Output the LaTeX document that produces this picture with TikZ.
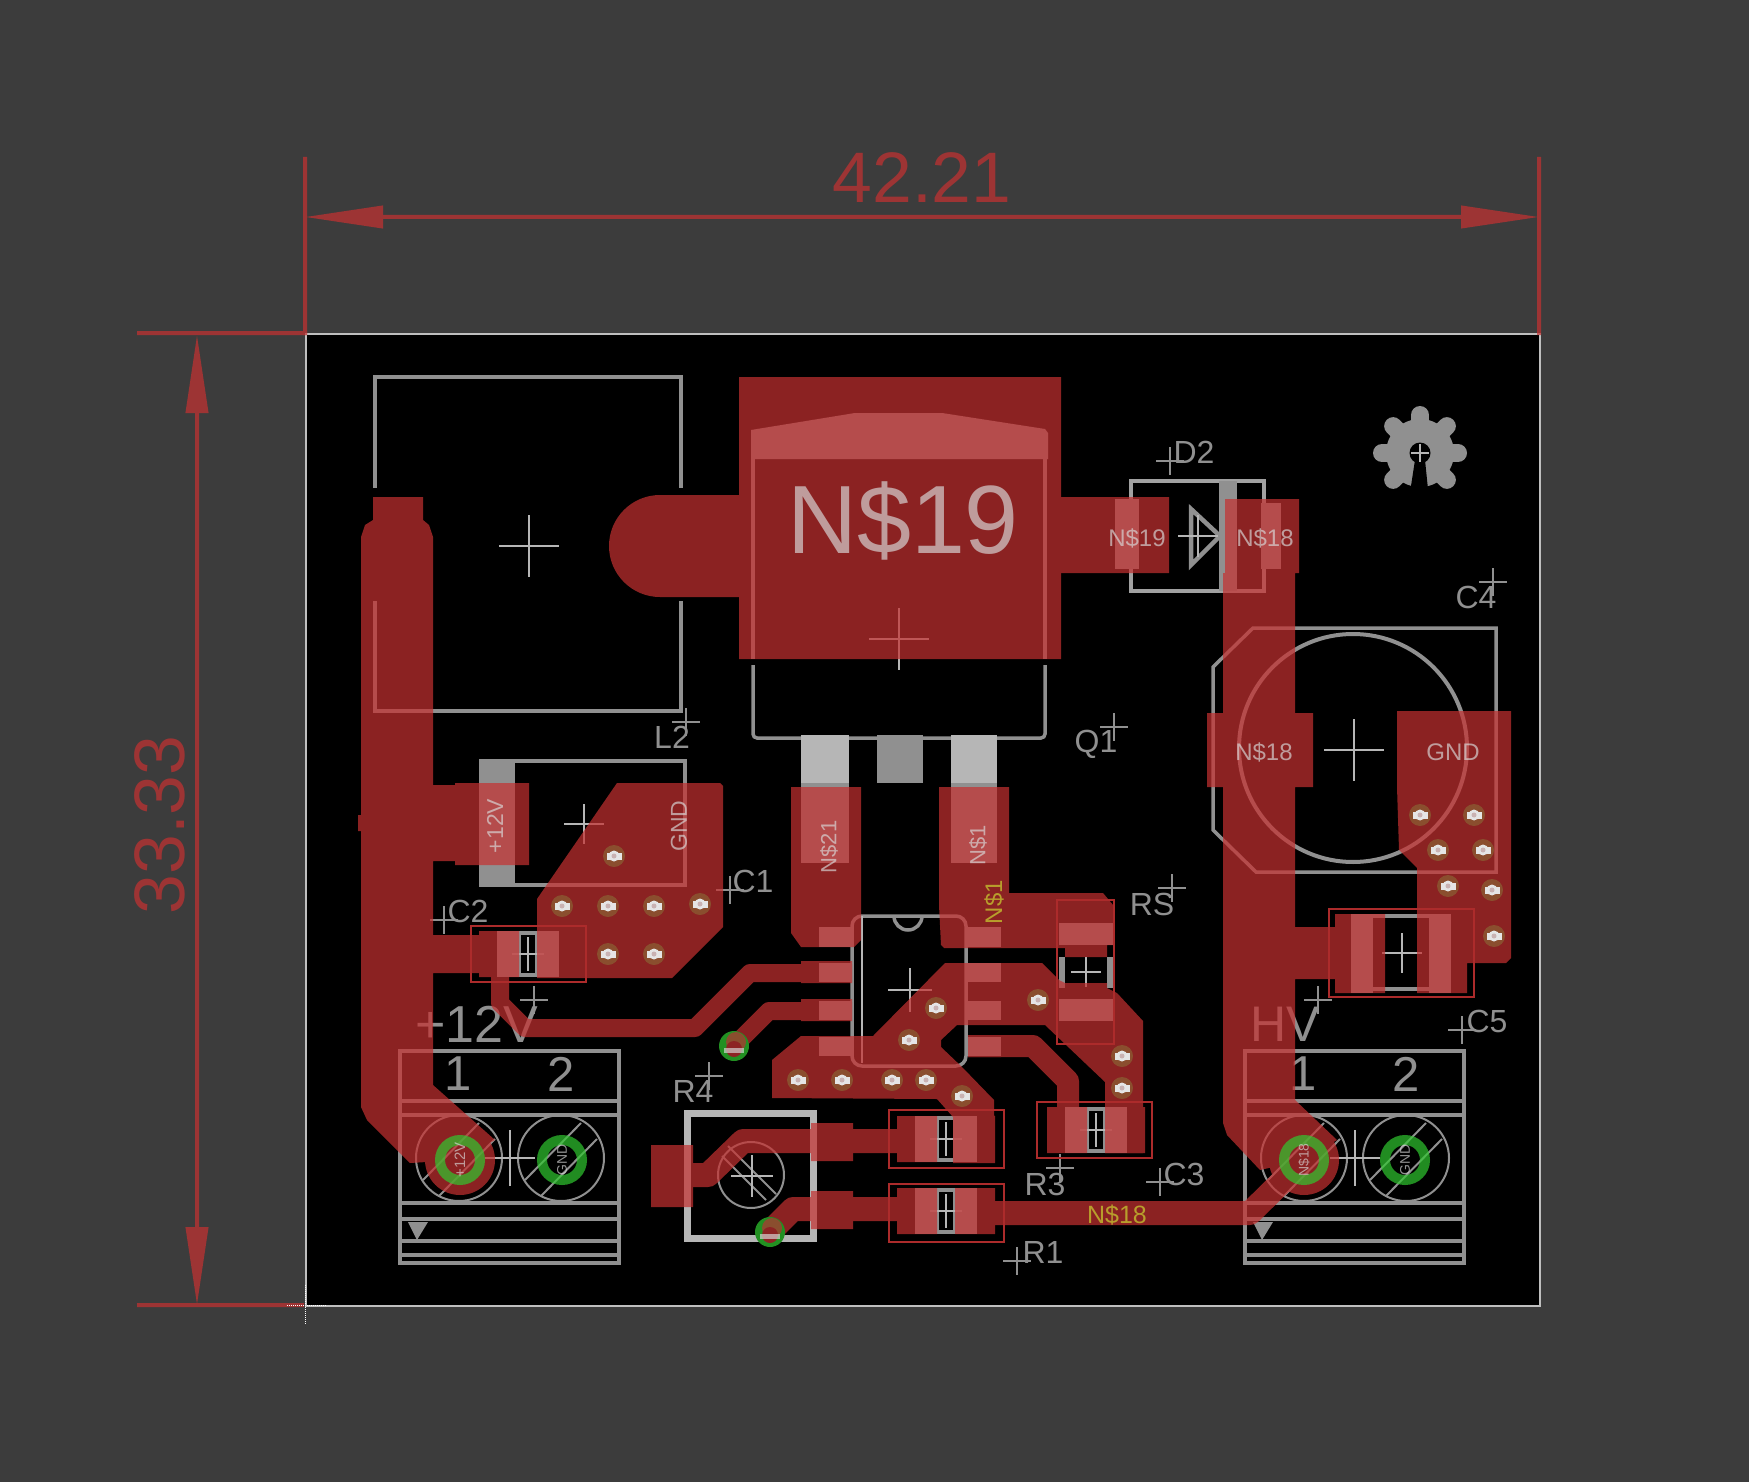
\documentclass[tikz,border=0pt]{standalone}
\usepackage{fontspec}
\setmainfont{Liberation Sans}
\usetikzlibrary{arrows.meta}
\definecolor{bgrey}{HTML}{3C3C3C}
\definecolor{silkgrey}{HTML}{909090}
\definecolor{lightgrey}{HTML}{B6B6B6}
\definecolor{cured}{RGB}{196,49,49}
\definecolor{boxred}{HTML}{AC2B2B}
\definecolor{viabrown}{HTML}{8A4E2E}
\definecolor{ringgreen}{RGB}{48,200,48}
\definecolor{drillgreen}{RGB}{34,144,34}
\definecolor{netyellow}{HTML}{B89E2C}
\tikzset{
    silk/.style = {draw=silkgrey, line width=3.5pt},
    fine/.style = {draw=lightgrey, line width=1.6pt},
    thin/.style = {draw=silkgrey, line width=2pt},
    copper/.style = {fill=cured},
    trace/.style = {draw=cured, line width=#1, line join=round},
    outbox/.style = {draw=boxred, line width=1.6pt},
    dimext/.style = {draw=cured, line width=4pt},
    dimline/.style = {draw=cured, line width=4pt, {Triangle[length=78pt,width=22pt]}-{Triangle[length=78pt,width=22pt]}},
    lbl/.style = {inner sep=0, text=silkgrey, font=\fontsize{32}{38}\selectfont},
    big/.style = {inner sep=0, text=silkgrey, font=\fontsize{#1}{56}\selectfont},
    dimtext/.style = {inner sep=0, text=cured, font=\fontsize{71.5}{80}\selectfont},
    padname/.style = {inner sep=0, text=black!15, text opacity=.67, font=\fontsize{#1}{#1}\selectfont},
    netname/.style = {inner sep=0, text=netyellow, font=\fontsize{#1}{#1}\selectfont},
    pics/mark/.style n args = {2}{
        code = {
        \draw [fine] (-#1,0) -- (#1,0);
        \draw [fine] (0,-#2) -- (0,#2);
        }
    },
    pics/org/.style = {
        code = {
        \draw [thin, line width=1.6pt] (-14,0) -- (14,0);
        \draw [thin, line width=1.6pt] (0,-14) -- (0,14);
        }
    },
    pics/via/.style = {
        code = {
        \fill [viabrown] (0,0) circle (11);
        \fill [black!10] (-7.5,-3.5) rectangle (7.5,3.5);
        \fill [black!10] (0,0) circle (5.5);
        \fill [red!30!black!30] (0,0) circle (2.5);
        }
    },
    pics/smdsilk/.style = {
        code = {
        \fill [silkgrey] (-31,-23) rectangle (-7,23);
        \fill [silkgrey] (7,-23) rectangle (31,23);
        \fill [silkgrey] (-7,-23) rectangle (7,-19);
        \fill [silkgrey] (-7,19) rectangle (7,23);
        \path pic {mark={16}{17}};
        }
    },
    pics/smdcu/.style = {
        code = {
        \fill [copper] (-49,-23) rectangle (-9,23);
        \fill [copper] (9,-23) rectangle (49,23);
        }
    },
    pics/terminal/.style = {
        code = {
        \draw [silk] (0,0) rectangle (219,212);
        \foreach \yline in {50,64,152,168,190,204}
            \draw [silk] (0,\yline) -- (219,\yline);
        \node (-one) [inner sep=0, text=silkgrey, font=\fontsize{49}{56}\selectfont] at (58,23) {1};
        \node (-two) [inner sep=0, text=silkgrey, font=\fontsize{49}{56}\selectfont] at (161,23) {2};
        \draw [thin] (59,107) circle (43);
        \draw [thin] (161,107) circle (43);
        \foreach \xpin in {59,161} {
            \draw [thin] (\xpin-36,129) -- (\xpin+20,72);
            \draw [thin] (\xpin-20,145) -- (\xpin+36,88);
        }
        \fill [silkgrey] (8,171) -- (28,171) -- (17,189) -- cycle;
        \path pic at (110,107) {mark={25}{28}};
        }
    },
    pics/ring/.style = {
        code = {
        \draw [ringgreen, opacity=.7, line width=10pt] (0,0) circle (20);
        }
    },
    pics/drill/.style = {
        code = {
        \fill [drillgreen] (0,0) circle (15);
        \fill [viabrown] (2,-4) circle (10);
        \fill [cured!72!black] (0,3) circle (8);
        \fill [black!15, opacity=.67] (-10,2) rectangle (10,7);
        }
    },
    pics/gearlogo/.style = {
        code = {
        \fill [silkgrey] (0,0) circle (34);
        \foreach \atooth in {0,45,135,180,225,270,315}
            \draw [silkgrey, line width=18pt, line cap=round] (0,0) -- (\atooth:38);
        \fill [black] (0,0) circle (10.5);
        \fill [black] (-5,7) -- (5,7) -- (9,46) -- (-11,46) -- cycle;
        \path pic {mark={9}{9}};
        }
    }
}

\begin{document}
\begin{tikzpicture}[x=1pt,y=-1pt]
    \useasboundingbox (0,0) rectangle (1749,1482);
    \fill [bgrey] (0,0) rectangle (1749,1482);
    \fill [black] (305.7,334) rectangle (1540,1306);
    \draw [draw=black!25, line width=2pt] (305.7,334) rectangle (1540,1306);

    % placement layer
    \draw [silk] (375,488) -- (375,377) -- (681,377) -- (681,488);
    \draw [silk] (375,601) -- (375,711) -- (681,711) -- (681,601);
    \path pic at (529,546) {mark={30}{31}};

    \fill [silkgrey] (751,459) -- (751,430) -- (855,413) -- (942,413) -- (1045,429) -- (1048,433) -- (1048,459) -- cycle;
    \draw [silk] (753,459) -- (753,659);
    \draw [silk] (1045,459) -- (1045,659);
    \draw [silk, rounded corners=4pt] (753,665) -- (753,738) -- (1045,738) -- (1045,665);
    \fill [lightgrey] (801,735) rectangle (849,783);
    \fill [silkgrey] (801,783) rectangle (849,863);
    \fill [silkgrey] (877,735) rectangle (923,783);
    \fill [lightgrey] (951,735) rectangle (997,783);
    \fill [silkgrey] (951,783) rectangle (997,863);
    \path pic at (899,639) {mark={30}{31}};

    \draw [silk, draw=silkgrey!85!white] (1131,481) rectangle (1264,591);
    \fill [silkgrey] (1219,481) rectangle (1237,591);
    \fill [silkgrey] (1115,499) rectangle (1139,569);
    \fill [silkgrey] (1261,503) rectangle (1281,569);
    \draw [silk, line width=4.5pt] (1191,509) -- (1191,565) -- (1220,536) -- cycle;
    \path pic at (1198,536) {mark={20}{21}};

    \path pic at (1420,453) {gearlogo};

    \draw [silk] (1253,628) -- (1496,628) -- (1496,872) -- (1256,872) -- (1213,830) -- (1213,667) -- cycle;
    \draw [silk, line width=4pt] (1353,748) circle (114);
    \path pic at (1354,750) {mark={30}{31}};

    \fill [silkgrey] (479,759) rectangle (515,887);
    \draw [silk] (515,761) -- (685,761) -- (685,885) -- (515,885);
    \path pic at (584,824) {mark={20}{20}};

    \path pic at (528,954) {smdsilk};
    \path pic at (946,1139) {smdsilk};
    \path pic at (946,1211) {smdsilk};
    \path pic at (1096,1130) {smdsilk};

    \draw [silk, rounded corners=10pt] (852,916) -- (966,916) -- (966,1066) -- (852,1066) -- cycle;
    \draw [fine] (862,916) -- (862,1063);
    \draw [silk] (894,916) arc [start angle=180, end angle=0, radius=14];
    \path pic at (910,990) {mark={22}{22}};
    \foreach \yrow in {963,1001,1037} {
        \fill [silkgrey] (819,\yrow) rectangle (852,\yrow+19);
        \fill [silkgrey] (968,\yrow) rectangle (1001,\yrow+19);
    }
    \fill [silkgrey] (819,927) rectangle (852,947);
    \fill [silkgrey] (968,927) rectangle (1001,947);

    \fill [silkgrey] (1059,923) rectangle (1113,945);
    \fill [silkgrey] (1059,999) rectangle (1113,1021);
    \fill [silkgrey] (1059,957) rectangle (1065,988);
    \fill [silkgrey] (1107,957) rectangle (1113,988);
    \path pic at (1086,972) {mark={15}{15}};

    \fill [silkgrey] (1351,914) rectangle (1373,993);
    \fill [silkgrey] (1429,914) rectangle (1451,993);
    \draw [silk] (1373,916) -- (1429,916);
    \draw [silk] (1373,989) -- (1429,989);
    \path pic at (1402,953) {mark={20}{20}};

    \draw [draw=lightgrey, line width=7pt] (687,1113) rectangle (813,1238);
    \draw [thin] (751,1175) circle (33);
    \draw [thin] (728,1146) -- (776,1194);
    \draw [thin] (722,1156) -- (766,1200);
    \path pic at (752,1176) {mark={21}{21}};

    \path pic (xa) at (400,1051) {terminal};
    \path pic (xb) at (1245,1051) {terminal};

    % names and origins
    \node (lblLtwo) [lbl] at (672,737) {L2};
    \path pic at (686,722) {org};
    \node (lblCone) [lbl] at (753,881) {C1};
    \path pic at (730,890) {org};
    \node (lblCtwo) [lbl] at (468,911) {C2};
    \path pic at (444,920) {org};
    \node (lblDtwo) [lbl] at (1194,452) {D2};
    \path pic at (1170,461) {org};
    \node (lblCfour) [lbl] at (1476,597) {C4};
    \path pic at (1493,582) {org};
    \node (lblQone) [lbl] at (1096,744) {Q1};
    \path pic at (1114,727) {org};
    \node (lblRS) [lbl] at (1152,904) {RS};
    \path pic at (1172,888) {org};
    \node (lblRthree) [lbl] at (1045,1184) {R3};
    \path pic at (1060,1168) {org};
    \node (lblCthree) [lbl] at (1184,1174) {C3};
    \path pic at (1160,1182) {org};
    \node (lblRone) [lbl] at (1043,1252) {R1};
    \path pic at (1017,1261) {org};
    \node (lblRfour) [lbl] at (693,1091) {R4};
    \path pic at (709,1076) {org};
    \node (lblCfive) [lbl] at (1487,1021) {C5};
    \path pic at (1462,1030) {org};
    \node (lblTwelve) [big=52] at (477,1024) {+12V};
    \path pic at (534,1000) {org};
    \node (lblHV) [big=50] at (1285,1024) {HV};
    \path pic at (1318,1000) {org};

    % top copper and dimensions
    \begin{scope}[transparency group, opacity=.715]
    \draw [dimline] (305,217) -- (1539,217);
    \draw [dimext] (305,157) -- (305,335);
    \draw [dimext] (1539,157) -- (1539,335);
    \draw [dimline] (197,335) -- (197,1305);
    \draw [dimext] (137,333) -- (307,333);
    \draw [dimext] (137,1305) -- (304,1305);
    \node (dimw) [dimtext] at (922,178) {42.21};
    \node (dimh) [dimtext, rotate=90] at (160,825) {33.33};

    \fill [copper] (373,497) -- (423,497) -- (423,520) -- (429,525) -- (433,537) -- (433,785) -- (455,785) -- (455,783) -- (529,783) -- (529,865) -- (455,865) -- (455,861) -- (433,861) -- (433,935) -- (481,935) -- (481,973) -- (433,973) -- (433,1085) -- (495,1140) -- (460,1160) -- (410,1163) -- (367,1120) -- (361,1107) -- (361,831) -- (358,831) -- (358,815) -- (361,815) -- (361,537) -- (365,525) -- (373,520) -- cycle;
    \fill [copper] (460,1160) circle (35);

    \fill [copper] (739,377) rectangle (1061,659);
    \fill [copper] (660,546) circle (51);
    \fill [copper] (660,495) rectangle (739,597);
    \fill [copper] (1061,497) rectangle (1169,573);

    \fill [copper] (1225,499) -- (1299,499) -- (1299,573) -- (1295,573) -- (1295,713) -- (1313,713) -- (1313,787) -- (1295,787) -- (1295,927) -- (1335,927) -- (1335,979) -- (1295,979) -- (1295,1100) -- (1337,1140) -- (1304,1160) -- (1260,1170) -- (1227,1135) -- (1223,1123) -- (1223,787) -- (1207,787) -- (1207,713) -- (1223,713) -- (1223,573) -- (1225,573) -- cycle;
    \fill [copper] (1304,1160) circle (35);
    \fill [copper] (1335,914) rectangle (1385,993);

    \fill [copper] (1397,711) -- (1511,711) -- (1511,958) -- (1506,963) -- (1467,963) -- (1467,993) -- (1417,993) -- (1417,868) -- (1399,850) -- (1397,787) -- cycle;

    \fill [copper] (617,783) -- (720,783) -- (723,786) -- (723,927) -- (672,978) -- (537,978) -- (537,899) -- cycle;
    \path pic at (528,954) {smdcu};
    \draw [trace=18pt] (500,977) -- (500,1003) -- (525,1028) -- (695,1028) -- (750,973) -- (852,973);
    \draw [trace=18pt] (734,1046) -- (769,1011) -- (852,1011);
    \fill [copper] (801,961) rectangle (852,983);
    \fill [copper] (801,999) rectangle (852,1021);

    \fill [copper] (791,787) -- (861,787) -- (861,940) -- (854,947) -- (801,947) -- (791,933) -- cycle;
    \fill [copper] (939,787) -- (1009,787) -- (1009,893) -- (1103,893) -- (1113,905) -- (1113,945) -- (1107,945) -- (1107,957) -- (1065,957) -- (1065,948) -- (944,948) -- (941,945) -- (939,905) -- cycle;
    \fill [copper] (1065,983) -- (1107,983) -- (1107,988) -- (1117,993) -- (1143,1021) -- (1143,1153) -- (1105,1153) -- (1105,1082) -- (1045,1025) -- (957,1025) -- (941,1040) -- (941,1047) -- (962,1067) -- (994,1100) -- (995,1163) -- (953,1163) -- (953,1117) -- (937,1099) -- (772,1098) -- (772,1060) -- (801,1036) -- (873,1036) -- (945,963) -- (1042,963) -- (1059,980) -- (1065,983) -- cycle;
    \draw [trace=22pt] (968,1046) -- (1033,1046) -- (1068,1081) -- (1068,1110);
    \fill [copper] (968,1037) rectangle (1001,1057);

    \path pic at (946,1139) {smdcu};
    \path pic at (946,1211) {smdcu};
    \path pic at (1096,1130) {smdcu};

    \fill [copper] (651,1145) rectangle (693,1207);
    \fill [copper] (811,1123) rectangle (853,1161);
    \fill [copper] (811,1191) rectangle (853,1229);
    \draw [trace=24pt] (693,1175) -- (708,1175) -- (743,1141) -- (900,1141);
    \draw [trace=24pt] (770,1232) -- (793,1209) -- (900,1209);
    \draw [trace=24pt] (990,1213) -- (1250,1213) -- (1304,1160);
    \end{scope}

    % outlines of the small parts
    \draw [outbox] (471,926) rectangle (586,982);
    \draw [outbox] (889,1110) rectangle (1004,1168);
    \draw [outbox] (889,1184) rectangle (1004,1242);
    \draw [outbox] (1037,1102) rectangle (1152,1158);
    \draw [outbox] (1057,900) rectangle (1114,1044);
    \draw [outbox] (1329,909) rectangle (1474,997);

    % vias
    \foreach \xvia/\yvia in {614/856,562/906,608/906,654/906,700/904,608/954,654/954,
        936/1008,909/1040,1038/1000,1122/1056,1122/1088,798/1080,842/1080,892/1080,926/1080,962/1096,
        1420/815,1474/815,1438/850,1483/850,1448/886,1492/890,1494/936}
        \path pic at (\xvia,\yvia) {via};

    % drills with rings
    \path pic at (460,1160) {ring};
    \path pic at (562,1160) {ring};
    \path pic at (1304,1160) {ring};
    \path pic at (1405,1160) {ring};
    \path pic at (734,1046) {drill};
    \path pic at (770,1232) {drill};

    % signal names
    \node (netQ) [padname=97] at (903,521) {N\$19};
    \node (netDa) [padname=24] at (1137,538) {N\$19};
    \node (netDb) [padname=24] at (1265,538) {N\$18};
    \node (netCa) [padname=24] at (1264,752) {N\$18};
    \node (netCb) [padname=24] at (1453,752) {GND};
    \node (netUa) [padname=23, rotate=90] at (495,826) {+12V};
    \node (netUb) [padname=23, rotate=90] at (679,826) {GND};
    \node (netQa) [padname=22, rotate=90] at (829,847) {N\$21};
    \node (netQb) [padname=22, rotate=90] at (978,845) {N\$1};
    \node (netXa) [padname=15, rotate=90] at (460,1160) {+12V};
    \node (netXb) [padname=14, rotate=90] at (562,1160) {GND};
    \node (netXc) [padname=14, rotate=90] at (1304,1160) {N\$18};
    \node (netXd) [padname=14, rotate=90] at (1405,1160) {GND};
    \node (netYa) [netname=24, rotate=90] at (994,902) {N\$1};
    \node (netYb) [netname=25] at (1117,1215) {N\$18};

    % drawing origin
    \draw [draw=white, line width=1pt, densely dotted] (287,1305) -- (326,1305);
    \draw [draw=white, line width=1pt, densely dotted] (305,1285) -- (305,1325);
\end{tikzpicture}
\end{document}
